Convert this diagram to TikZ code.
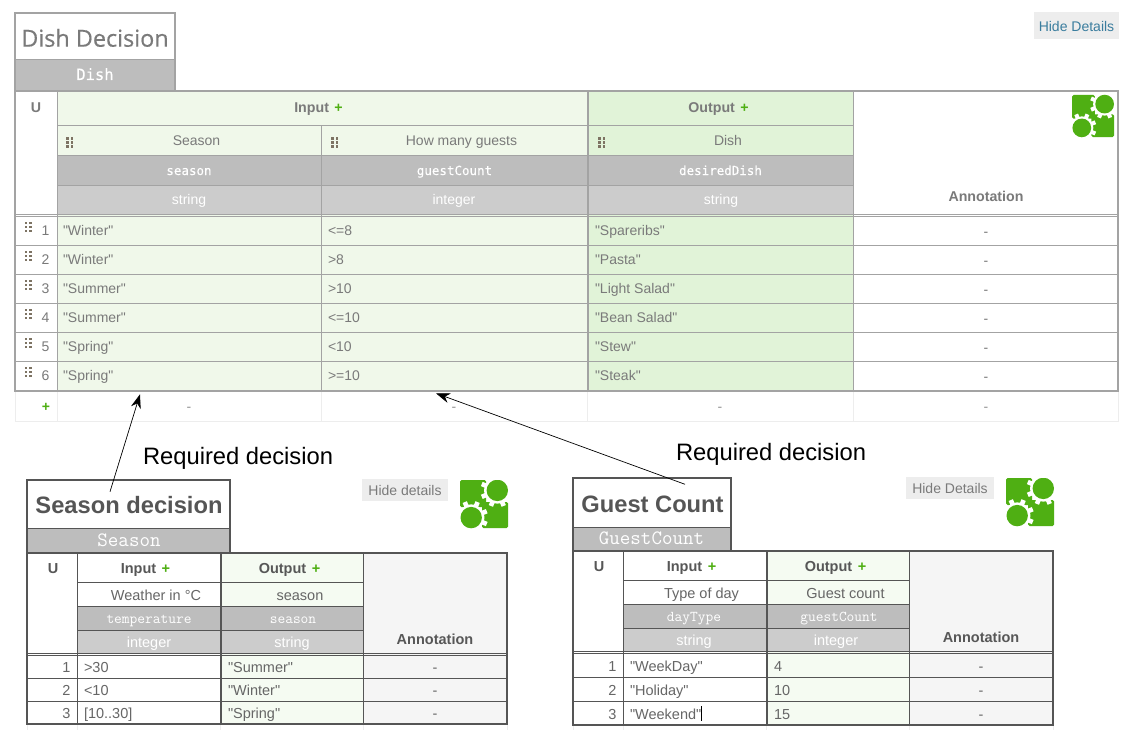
\documentclass[tikz,border=0pt]{standalone}
\usepackage{fontspec}
\setmainfont{Liberation Sans}[Ligatures=TeXOff]
\newfontfamily\osans{Open Sans}[FakeBold=0.4]
\newfontfamily\dmono{DejaVu Sans Mono}[FakeBold=0.2]
\usetikzlibrary{arrows.meta}
\definecolor{inA}{HTML}{F0F8EA}
\definecolor{outA}{HTML}{E1F3D8}
\definecolor{outB}{HTML}{F5FBF2}
\definecolor{annB}{HTML}{F5F5F5}
\definecolor{nameC}{HTML}{BDBDBD}
\definecolor{typeC}{HTML}{CCCCCC}
\definecolor{lineA}{HTML}{A3A3A3}
\definecolor{lineB}{HTML}{555555}
\definecolor{faint}{HTML}{EDEDED}
\definecolor{txtA}{HTML}{7A7A7A}
\definecolor{txtB}{HTML}{666666}
\definecolor{plusC}{HTML}{4FAF13}
\definecolor{link}{HTML}{3A7D9E}
\definecolor{gripC}{HTML}{7D7363}
\newcommand{\fsz}[1]{\fontsize{#1bp}{#1bp}\selectfont}
\newcommand{\plusmark}{\hspace{1.5bp}\textcolor{plusC}{+}}
\tikzset{
  x=1bp,y=-1bp,
  t/.style={inner sep=0,outer sep=0,anchor=base},
  tl/.style={t,anchor=base west},
  tr/.style={t,anchor=base east},
  bodyA/.style={text=txtA,font=\fsz{14}},
  bodyB/.style={text=txtB,font=\fsz{14.5}},
  headA/.style={text=txtA,font=\bfseries\fsz{14.2}},
  headB/.style={text=txtB!85!black,font=\bfseries\fsz{14.5}},
  monoA/.style={text=white,font=\dmono\fsz{12.5}},
  monoB/.style={text=white,font=\ttfamily\fsz{15}},
  typeT/.style={text=white,font=\fsz{14.5}},
  titleB/.style={text=lineB,font=\bfseries\fsz{23.7}},
  btn/.style={t,anchor=center,minimum height=22bp,fill=black!7},
  req/.style={text=black,font=\fsz{23.75}},
  dep/.style={-{Stealth[length=14bp,width=10bp]},black,line width=0.7bp},
  ra/.style={lineA,line width=1bp},
  rb/.style={lineB,line width=1bp},
}
\newcommand{\grip}[2]{%
  \foreach \gi in {0,1}\foreach \gj in {0,1,2}
    \fill[gripC] ({#1+\gi*4.8},{#2+\gj*4}) rectangle ++(2.6,2.6);}
\newcommand{\gears}[3]{%
  \begin{scope}[shift={(#1,#2)},scale=#3]
    \clip (0,0) rectangle (48,48);
    \fill[plusC,rounded corners=1.5] (0,0) rectangle (26,27);
    \fill[plusC,rounded corners=1.5] (22,22) rectangle (48,48);
    \foreach \cx/\cy in {37.3/10.4,11.2/37.6}{
      \fill[white] (\cx,\cy) circle (13.2);
      \foreach \ang in {22.5,67.5,...,337.5}
        \fill[white,shift={(\cx,\cy)},rotate=\ang] (-2.3,-16.8) rectangle (2.3,0);
      \fill[plusC] (\cx,\cy) circle (10.7);
    }
  \end{scope}}
\begin{document}
\begin{tikzpicture}
\useasboundingbox (0,0) rectangle (1134,756);
\fill[white] (0,0) rectangle (1134,756);

%%%%%%%%%% MAIN TABLE
\fill[inA] (57,91) rectangle (587,391);
\fill[outA] (588,91) rectangle (853,391);
\fill[nameC] (57,155) rectangle (853,185);
\fill[typeC] (57,185) rectangle (853,214);
\draw[faint,line width=1bp] (15,391) -- (15,421) -- (1118,421) -- (1118,391);
\foreach \xx in {57,321.5,587.5,853} \draw[faint,line width=1bp] (\xx,391) -- (\xx,421);
\draw[ra] (57,125.5) -- (853,125.5);
\draw[ra] (57,155) -- (853,155);
\draw[ra] (57,185) -- (853,185);
\draw[ra] (15,214) -- (1118,214);
\draw[ra] (15,216) -- (1118,216);
\foreach \yy in {245,274,303.5,332.5,361.5} \draw[ra] (15,\yy) -- (1118,\yy);
\draw[ra] (57,91) -- (57,391);
\draw[ra] (321.5,125.5) -- (321.5,391);
\draw[ra] (587,91) -- (587,391);
\draw[ra] (588.5,91) -- (588.5,391);
\draw[ra] (853,91) -- (853,391);
\fill[nameC] (15,60) rectangle (175,91);
\draw[lineA,line width=1.5bp] (15,91) -- (15,13) -- (175,13) -- (175,91);
\draw[lineA,line width=1bp] (15,60) -- (175,60);
\draw[lineA,line width=2bp] (15,91) rectangle (1118,391);

\node[t,text=txtA,font=\osans\fsz{23.4}] (mTitle) at (95,46.7) {Dish Decision};
\node[t,text=white,font=\dmono\fsz{15.5}] (mId) at (95,80) {Dish};
\node[btn,text=link,font=\fsz{14},minimum width=84.5bp,minimum height=27bp] (mHide) at (1076.5,26) {Hide Details};

\node[t,headA] (mU) at (36,113) {U};
\node[t,headA] (mIn) at (318.5,113) {Input \plusmark};
\node[t,headA] (mOut) at (718.5,113) {Output \plusmark};
\node[t,headA] (mAnn) at (986,201) {Annotation};
\node[t,bodyA] (mL1) at (196.5,145) {Season};
\node[t,bodyA] (mL2) at (461.5,145) {How many guests};
\node[t,bodyA] (mL3) at (728,145) {Dish};
\node[t,monoA] (mN1) at (189,175) {season};
\node[t,monoA] (mN2) at (454.5,175) {guestCount};
\node[t,monoA] (mN3) at (720.5,175) {desiredDish};
\node[t,typeT,font=\fsz{14}] (mT1) at (189,204) {string};
\node[t,typeT,font=\fsz{14}] (mT2) at (454,204) {integer};
\node[t,typeT,font=\fsz{14}] (mT3) at (721,204) {string};
\grip{66}{137}\grip{331}{137}\grip{598}{137}

\foreach \rr/\by/\aa/\bb/\cc in {
  1/235/"Winter"/{<=8}/"Spareribs",
  2/264/"Winter"/{>8}/"Pasta",
  3/293/"Summer"/{>10}/"Light Salad",
  4/322/"Summer"/{<=10}/"Bean Salad",
  5/351/"Spring"/{<10}/"Stew",
  6/380/"Spring"/{>=10}/"Steak"}{
  \node[tr,bodyA] (mNo\rr) at (49.5,\by) {\rr};
  \node[tl,bodyA] (mA\rr) at (63,\by) {\aa};
  \node[tl,bodyA] (mB\rr) at (328,\by) {\bb};
  \node[tl,bodyA] (mC\rr) at (595,\by) {\cc};
  \node[t,bodyA] (mD\rr) at (986,\by+1) {-};
  \grip{24.5}{\by-13.5}
}
\node[t,font=\bfseries\fsz{14},text=plusC] (mAdd) at (46,411) {+};
\foreach \xx/\nn in {189/a,454/b,720/c,986/d}
  \node[t,bodyA,text=txtA!80] (mDash\nn) at (\xx,411) {-};
\gears{1072}{95}{0.875}

%%%%%%%%%% SEASON TABLE
\fill[outB] (221,553) rectangle (363,724);
\fill[annB] (363,553) rectangle (507,724);
\fill[nameC] (77,606) rectangle (363,630);
\fill[typeC] (77,630) rectangle (363,653);
\foreach \xx in {27,77,220.5,363,507} \draw[faint,line width=1bp] (\xx,724) -- (\xx,730);
\draw[rb] (77,582.5) -- (363,582.5);
\draw[rb] (77,606) -- (363,606);
\draw[rb] (77,630) -- (363,630);
\draw[rb] (27,653.5) -- (507,653.5);
\draw[rb] (27,655.5) -- (507,655.5);
\draw[rb] (27,678) -- (507,678);
\draw[rb] (27,701) -- (507,701);
\draw[rb] (77,553) -- (77,724);
\draw[rb] (220,553) -- (220,724);
\draw[rb] (221.5,553) -- (221.5,724);
\draw[rb] (363,553) -- (363,724);
\fill[nameC] (27,528) rectangle (230,553);
\draw[lineB,line width=1.5bp] (27,553) -- (27,480) -- (230,480) -- (230,553);
\draw[lineB,line width=1bp] (27,528) -- (230,528);
\draw[lineB,line width=2bp] (27,553) rectangle (507,724);

\node[t,titleB] (sTitle) at (129,513) {Season decision};
\node[t,text=white,font=\ttfamily\fsz{20.4}] (sId) at (129,546) {Season};
\node[btn,text=txtA,font=\fsz{14},minimum width=86bp] (sHide) at (405,490) {Hide details};
\node[t,headB] (sU) at (53,573) {U};
\node[t,headB] (sIn) at (145.5,573) {Input \plusmark};
\node[t,headB] (sOut) at (289.5,573) {Output \plusmark};
\node[t,headB] (sAnn) at (435,644) {Annotation};
\node[t,bodyB] (sL1) at (156,600) {Weather in °C};
\node[t,bodyB] (sL2) at (300,600) {season};
\node[t,monoB] (sN1) at (149,623) {temperature};
\node[t,monoB] (sN2) at (293,623) {season};
\node[t,typeT] (sT1) at (149,647) {integer};
\node[t,typeT] (sT2) at (292,647) {string};
\foreach \rr/\by/\aa/\bb in {1/672/{>30}/"Summer",2/695/{<10}/"Winter",3/718/{[10..30]}/"Spring"}{
  \node[tr,bodyB] (sNo\rr) at (70.5,\by) {\rr};
  \node[tl,bodyB] (sA\rr) at (84,\by) {\aa};
  \node[tl,bodyB] (sB\rr) at (228,\by) {\bb};
  \node[t,bodyB] (sD\rr) at (435,\by) {-};
}
\gears{460}{480}{1}

%%%%%%%%%% GUEST COUNT TABLE
\fill[outB] (767,551) rectangle (909,725);
\fill[annB] (909,551) rectangle (1053,725);
\fill[nameC] (623,604.5) rectangle (909,628.5);
\fill[typeC] (623,628.5) rectangle (909,651);
\foreach \xx in {573,623,766.5,909,1053} \draw[faint,line width=1bp] (\xx,725) -- (\xx,730);
\draw[rb] (623,580) -- (909,580);
\draw[rb] (623,604.5) -- (909,604.5);
\draw[rb] (623,628.5) -- (909,628.5);
\draw[rb] (573,651.5) -- (1053,651.5);
\draw[rb] (573,653.5) -- (1053,653.5);
\draw[rb] (573,677) -- (1053,677);
\draw[rb] (573,701) -- (1053,701);
\draw[rb] (623,551) -- (623,725);
\draw[rb] (766,551) -- (766,725);
\draw[rb] (767.5,551) -- (767.5,725);
\draw[rb] (909,551) -- (909,725);
\fill[nameC] (573,527) rectangle (731,551);
\draw[lineB,line width=1.5bp] (573,551) -- (573,478) -- (731,478) -- (731,551);
\draw[lineB,line width=1bp] (573,527) -- (731,527);
\draw[lineB,line width=2bp] (573,551) rectangle (1053,725);

\node[t,titleB] (gTitle) at (652.5,512) {Guest Count};
\node[t,text=white,font=\ttfamily\fsz{20.4}] (gId) at (651.5,544) {GuestCount};
\node[btn,text=txtA,font=\fsz{14},minimum width=88bp] (gHide) at (950,488) {Hide Details};
\node[t,headB] (gU) at (599,571) {U};
\node[t,headB] (gIn) at (691.5,571) {Input \plusmark};
\node[t,headB] (gOut) at (835.5,571) {Output \plusmark};
\node[t,headB] (gAnn) at (981,642) {Annotation};
\node[t,bodyB] (gL1) at (701.5,598) {Type of day};
\node[t,bodyB] (gL2) at (845.5,598) {Guest count};
\node[t,monoB] (gN1) at (694,621.5) {dayType};
\node[t,monoB] (gN2) at (839,621.5) {guestCount};
\node[t,typeT] (gT1) at (694,645) {string};
\node[t,typeT] (gT2) at (836,645) {integer};
\foreach \rr/\by/\aa/\bb in {1/671/"WeekDay"/4,2/695/"Holiday"/10,3/719/"Weekend"/15}{
  \node[tr,bodyB] (gNo\rr) at (616.5,\by) {\rr};
  \node[tl,bodyB] (gA\rr) at (630,\by) {\aa};
  \node[tl,bodyB] (gB\rr) at (774,\by) {\bb};
  \node[t,bodyB] (gD\rr) at (981,\by) {-};
}
\coordinate (caret) at (701.7,706);
\draw[black,line width=0.8bp] (caret) -- ++(0,15);
\gears{1006}{478}{1}

%%%%%%%%%% DEPENDENCIES
\node[tl,req] (reqL) at (143,464) {Required decision};
\node[tl,req] (reqR) at (676,460) {Required decision};
\coordinate (seasonFrom) at (110,491.7);
\coordinate (seasonTo) at (140,394.3);
\coordinate (guestFrom) at (685,484.3);
\coordinate (guestTo) at (436,393.3);
\draw[dep] (seasonFrom) -- (seasonTo);
\draw[dep] (guestFrom) -- (guestTo);
\end{tikzpicture}
\end{document}
